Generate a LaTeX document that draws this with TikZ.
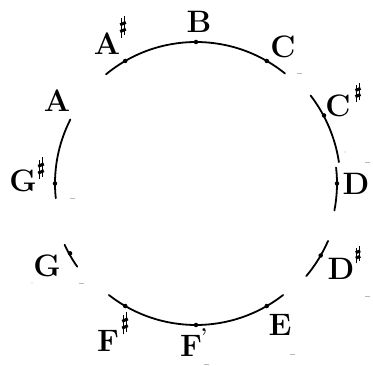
\documentclass[tikz,border=0pt]{standalone}
\usetikzlibrary{calc}
\tikzset{
  arcline/.style={line width=1.8pt, line cap=round},
  notedot/.style={circle, fill=black, inner sep=0pt, minimum size=4.5pt},
  notelabel/.style={inner sep=0pt, font=\fontsize{31}{31}\selectfont\bfseries},
  sharpsign/.pic={
    \draw[line width=0.9pt] (-1.4,-11) -- (-1.4,8.5);
    \draw[line width=0.9pt] (1.4,-8.5) -- (1.4,11);
    \draw[line width=3pt] (-2.8,-4.6) -- (2.8,-2.2);
    \draw[line width=3pt] (-2.8,2.2) -- (2.8,4.6);
  },
  speck/.style={gray!55, line width=0.9pt}
}
\begin{document}
\begin{tikzpicture}[x=1pt,y=1pt]
\useasboundingbox (-196,-182.5) rectangle (177,183.5);
\coordinate (O) at (0,0);
% arcs
\draw[arcline] (O) ++(51:141.5) arc[start angle=51, end angle=129.5, radius=141.5];
\draw[arcline] (O) ++(37.5:144.5) arc[start angle=37.5, end angle=8.5, radius=144.5];
\draw[arcline] (O) ++(6.5:141) arc[start angle=6.5, end angle=-11, radius=141];
\draw[arcline] (O) ++(-23.5:144) arc[start angle=-23.5, end angle=-40, radius=144];
\draw[arcline] (O) ++(-52:141.5) arc[start angle=-52, end angle=-128, radius=141.5];
\draw[arcline] (O) ++(-155:145) arc[start angle=-155, end angle=-145, radius=145];
\draw[arcline] (O) ++(153:141) arc[start angle=153, end angle=186, radius=141];
% dots
\node[notedot] (dAs) at (120:141.5) {};
\node[notedot] (dB) at (90:141.5) {};
\node[notedot] (dC) at (60:141.5) {};
\node[notedot] (dCs) at (28:145) {};
\node[notedot] (dD) at (0:141) {};
\node[notedot] (dDs) at (-30:144) {};
\node[notedot] (dE) at (-60:141.5) {};
\node[notedot] (dF) at (-90:141.5) {};
\node[notedot] (dFs) at (-120:141.5) {};
\node[notedot] (dG) at (-151:144) {};
\node[notedot] (dGs) at (180:141) {};
% labels
\node[notelabel] (lAs) at (-89,139.5) {A};
\pic at (-73,156.5) {sharpsign};
\node[notelabel] (lB) at (3,161.5) {B};
\node[notelabel] (lC) at (87,136.5) {C};
\node[notelabel] (lCs) at (142,77.5) {C};
\pic[scale=0.9] at (162,91) {sharpsign};
\node[notelabel] (lD) at (160,-0.5) {D};
\node[notelabel] (lDs) at (145,-85.5) {D};
\pic[scale=0.8] at (162,-71) {sharpsign};
\node[notelabel] (lE) at (84,-141.5) {E};
\node[notelabel] (lF) at (-5,-162.5) {F};
\node[notelabel] (pF) at (8,-152) {\fontsize{20}{20}\selectfont'};
\node[notelabel] (lFs) at (-88,-157.5) {F};
\pic at (-71,-140) {sharpsign};
\node[notelabel] (lG) at (-149,-82.5) {G};
\node[notelabel] (lGs) at (-173,2.5) {G};
\pic at (-155,15) {sharpsign};
\node[notelabel] (lA) at (-139,82.5) {A};
% scan specks
\foreach \x/\y in {104/110.5, 172/21.5, 172/-112.5, 97/-170.5, 11/-181, -114/-99.5, -123/-14.5}
  \draw[speck] (\x-2.5,\y) -- (\x+2.5,\y);
\foreach \x/\y in {149/31.5, -164/-99.5}
  \fill[gray!60] (\x,\y) circle (0.6pt);
\end{tikzpicture}
\end{document}
